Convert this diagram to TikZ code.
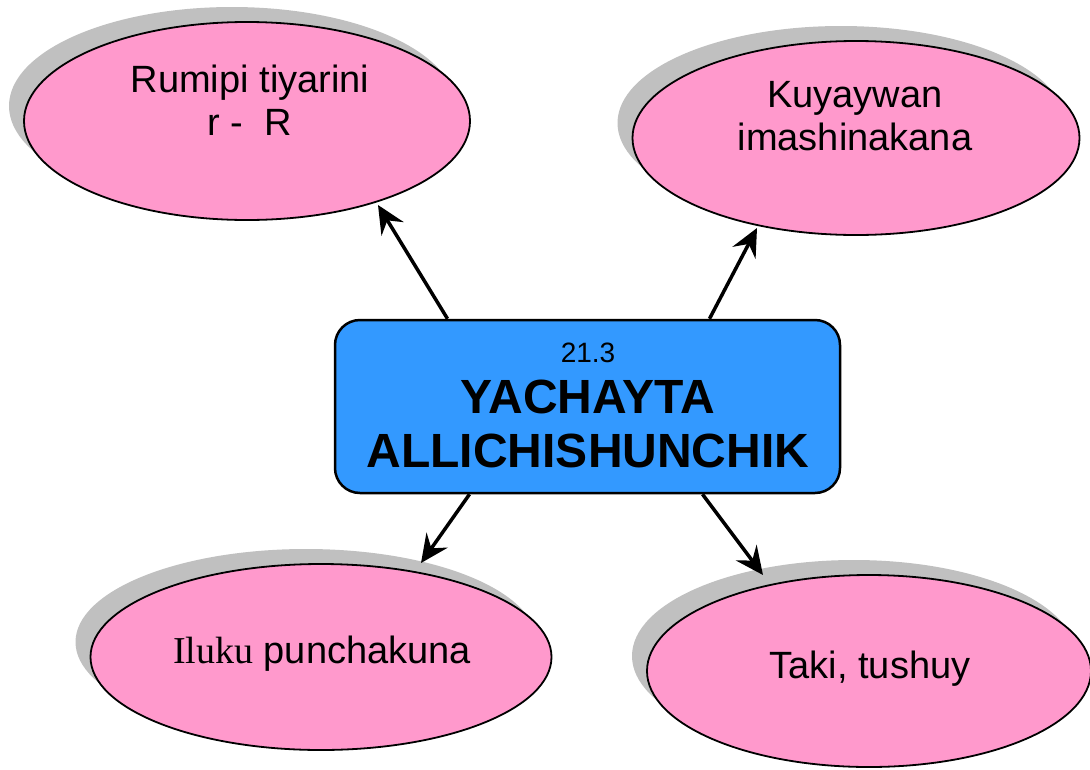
\documentclass[tikz,border=0pt]{standalone}
\usepackage{fontspec}
\setmainfont{Liberation Sans}
\newfontfamily\tnr{Liberation Serif}
\usetikzlibrary{shapes.geometric,shadows,arrows.meta,calc}
\definecolor{pinkfill}{HTML}{FF99CC}
\definecolor{boxblue}{HTML}{3399FF}
\definecolor{shadowgray}{HTML}{C0C0C0}
\begin{document}
\begin{tikzpicture}[x=1pt,y=-1pt,
  oval/.style={ellipse, draw=black, line width=1.8pt, fill=pinkfill, inner sep=0pt,
    drop shadow={shadow xshift=-15pt, shadow yshift=15pt, fill=shadowgray, opacity=1}},
  ovaltext/.style={anchor=base, align=center, inner sep=0pt, font=\fontsize{38}{43}\selectfont},
  mainbox/.style={draw=black, line width=2.5pt, fill=boxblue, rounded corners=25pt,
    minimum width=505pt, minimum height=173pt, inner sep=0pt},
  arr/.style={line width=3.5pt, -{Stealth[length=28pt,width=26pt,inset=10pt]}}]
\useasboundingbox (0,0) rectangle (1090,769);
% ellipses
\node[oval, minimum width=446pt, minimum height=198pt] (e1) at (247,121) {};
\node[oval, minimum width=447pt, minimum height=194pt] (e2) at (856,138) {};
\node[oval, minimum width=461pt, minimum height=186pt] (e3) at (321,657) {};
\node[oval, minimum width=444pt, minimum height=192pt] (e4) at (869,671) {};
% texts (base = baseline of the last line)
\node[ovaltext] (t1) at (250,135) {Rumipi tiyarini\\r -\ \ R};
\node[ovaltext] (t2) at (855,150) {Kuyaywan\\imashinakana};
\node[ovaltext] (t3) at (322,663) {{\tnr Iluku} punchakuna};
\node[ovaltext] (t4) at (870,678) {Taki, tushuy};
% central box
\node[mainbox] (box) at (587.5,406.5) {};
\node[anchor=base, align=center, inner sep=0pt, font=\fontsize{48}{54}\selectfont\bfseries] (bt) at (588,467)
  {{\fontsize{28}{31}\mdseries\selectfont 21.3}\\[-3pt]YACHAYTA\\ALLICHISHUNCHIK};
% connectors
\draw[arr] ($(box.north)+(-140,0)$) -- ($(e1.center)+(131,84)$);
\draw[arr] ($(box.north)+(122,0)$) -- ($(e2.center)+(-99,90)$);
\draw[arr] ($(box.south)+(-118,0)$) -- ($(e3.center)+(100,-94)$);
\draw[arr] ($(box.south)+(115,0)$) -- ($(e4.center)+(-106,-96)$);
\end{tikzpicture}
\end{document}
